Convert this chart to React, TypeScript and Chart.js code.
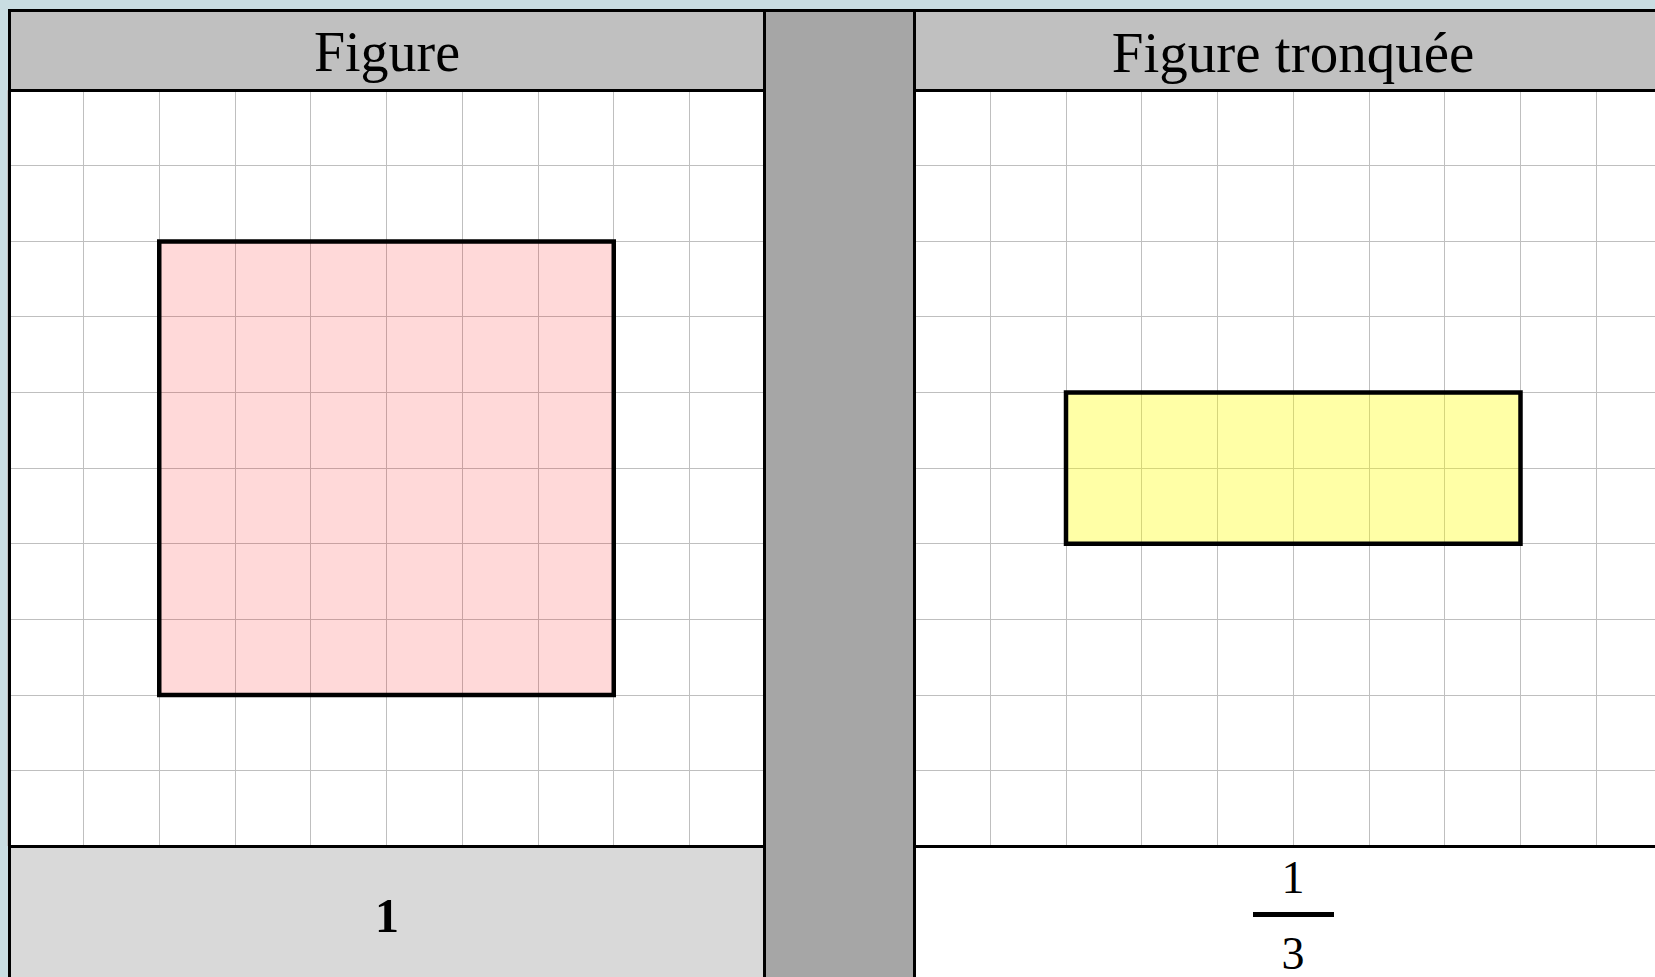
import React, { useEffect, useRef } from "react";
import { Chart, registerables } from "chart.js";

Chart.register(...registerables);

// ---- data ----
const gridUnits = [0, 10];            // each panel is a 10 x 10 squared grid
const headers = ["Figure", "Figure tronquée"];
const squareX = [2, 8, 8, 2, 2];      // original figure (6 x 6)
const squareY = [2, 2, 8, 8, 2];
const truncX = [2, 8, 8, 2, 2];       // truncated figure (6 x 2)
const truncY = [4, 4, 6, 6, 4];
const ratioWhole = "1";
const ratioNum = "1";
const ratioDen = "3";

const FONT = '"Liberation Serif", "Times New Roman", serif';
const GRID = "#bfbfbf";

type GridProps = {
  xs: number[];
  ys: number[];
  fill: string;
  left: number;
  top: number;
  pad: { left: number; right: number; top: number; bottom: number };
};

function GridChart({ xs, ys, fill, left, top, pad }: GridProps) {
  const ref = useRef<HTMLCanvasElement | null>(null);
  useEffect(() => {
    if (!ref.current) return;
    const chart = new Chart(ref.current, {
      type: "scatter",
      data: {
        datasets: [
          {
            data: xs.map((x, i) => ({ x, y: ys[i] })),
            showLine: true,
            fill: "shape",
            backgroundColor: fill,
            borderColor: "#000000",
            borderWidth: 4.5,
            borderJoinStyle: "miter",
            borderCapStyle: "square",
            pointRadius: 0,
            pointHoverRadius: 0,
            tension: 0,
          } as any,
        ],
      },
      options: {
        animation: false,
        responsive: false,
        maintainAspectRatio: false,
        events: [],
        layout: { padding: pad },
        plugins: {
          legend: { display: false },
          tooltip: { enabled: false },
          title: { display: false },
        },
        scales: {
          x: {
            type: "linear",
            min: gridUnits[0],
            max: gridUnits[1],
            ticks: { display: false, stepSize: 1 },
            grid: { color: GRID, lineWidth: 1, drawTicks: false },
            border: { display: false },
          },
          y: {
            type: "linear",
            reverse: true,
            min: gridUnits[0],
            max: gridUnits[1],
            ticks: { display: false, stepSize: 1 },
            grid: { color: GRID, lineWidth: 1, drawTicks: false },
            border: { display: false },
          },
        },
      },
    });
    return () => chart.destroy();
  }, []);
  return (
    <canvas
      ref={ref}
      width={762}
      height={762}
      style={{ position: "absolute", left, top, width: 762, height: 762, display: "block" }}
    />
  );
}

const box = (l: number, t: number, w: number, h: number, bg: string): React.CSSProperties => ({
  position: "absolute",
  left: l,
  top: t,
  width: w,
  height: h,
  background: bg,
});

const text = (
  l: number,
  t: number,
  w: number,
  size: number,
  weight: number | string = "normal"
): React.CSSProperties => ({
  position: "absolute",
  left: l,
  top: t,
  width: w,
  textAlign: "center",
  fontFamily: FONT,
  fontSize: size,
  lineHeight: `${size}px`,
  fontWeight: weight as any,
  color: "#000",
  whiteSpace: "nowrap",
});

export default function App() {
  useEffect(() => {
    document.body.style.overflow = "hidden";
  }, []);
  return (
    <div
      style={{
        position: "fixed",
        left: 0,
        top: 0,
        width: "100vw",
        height: "100vh",
        overflow: "hidden",
        background: "#c9dde2",
      }}
    >
      {/* table background */}
      <div style={box(8, 9, 1700, 1000, "#ffffff")} />
      {/* header cells */}
      <div style={box(11, 12, 752, 77, "#c0c0c0")} />
      <div style={box(916, 12, 800, 77, "#c0c0c0")} />
      {/* middle separator column */}
      <div style={box(766, 12, 147, 1000, "#a6a6a6")} />
      {/* bottom-left value cell */}
      <div style={box(11, 848, 752, 200, "#d9d9d9")} />

      {/* grids */}
      <GridChart
        xs={squareX}
        ys={squareY}
        fill="rgba(255, 0, 0, 0.15)"
        left={6}
        top={88}
        pad={{ left: 1.75, right: 2.75, top: 2.2, bottom: 3.8 }}
      />
      <GridChart
        xs={truncX}
        ys={truncY}
        fill="rgba(255, 255, 0, 0.35)"
        left={912}
        top={88}
        pad={{ left: 2.5, right: 2.0, top: 2.2, bottom: 3.8 }}
      />

      {/* black rules */}
      <div style={box(8, 9, 1700, 3, "#000")} />
      <div style={box(8, 9, 3, 1000, "#000")} />
      <div style={box(763, 9, 3, 1000, "#000")} />
      <div style={box(913, 9, 3, 1000, "#000")} />
      <div style={box(8, 89, 758, 3, "#000")} />
      <div style={box(913, 89, 800, 3, "#000")} />
      <div style={box(8, 845, 758, 3, "#000")} />
      <div style={box(913, 845, 800, 3, "#000")} />

      {/* header texts */}
      <div style={text(8, 24, 758, 56)}>{headers[0]}</div>
      <div style={text(916, 24, 754, 57)}>{headers[1]}</div>

      {/* bottom values */}
      <div style={text(8, 892, 758, 48, "bold")}>{ratioWhole}</div>
      <div style={text(1193, 854.5, 200, 46)}>{ratioNum}</div>
      <div style={box(1253, 912, 81, 5, "#000")} />
      <div style={text(1193, 930.5, 200, 46)}>{ratioDen}</div>
    </div>
  );
}
